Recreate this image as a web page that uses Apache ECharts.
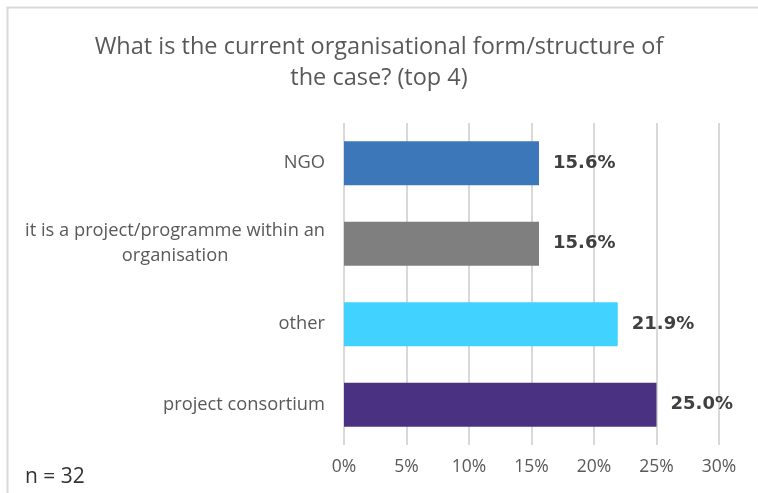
<!DOCTYPE html>
<html>
<head>
<meta charset="utf-8">
<title>organisational form</title>
<script src="https://cdn.jsdelivr.net/npm/echarts@6/dist/echarts.min.js"></script>
<style>
html, body { margin: 0; padding: 0; background: #fff; }
#chart { width: 758px; height: 493px; }
</style>
</head>
<body>
<div id="chart"></div>
<script>
var categories = ['NGO', 'it is a project/programme within an\norganisation', 'other', 'project consortium'];
var values = [15.6, 15.6, 21.9, 25.0];
var barColors = ['#3C78B9', '#7F7F7F', '#42D2FF', '#4B3182'];
var tickValues = [0, 5, 10, 15, 20, 25, 30];

var chart = echarts.init(document.getElementById('chart'));
var option = {
    backgroundColor: '#fff',
    graphic: [
        { type: 'rect', shape: { x: 7.5, y: 7.5, width: 800, height: 600 }, style: { fill: 'none', stroke: '#D9D9D9', lineWidth: 2 } },
        { type: 'text', left: 25, top: 467, style: { text: 'n = 32', font: '21px "Open Sans"', fill: '#333' } }
    ],
    title: {
        text: 'What is the current organisational form/structure of\nthe case? (top 4)',
        left: 'center',
        top: 27,
        textStyle: { fontFamily: 'Open Sans', fontWeight: 'normal', fontSize: 23.5, color: '#595959', lineHeight: 31 }
    },
    grid: { left: 344, right: 39, top: 123, bottom: 48, containLabel: false },
    xAxis: {
        type: 'value',
        min: tickValues[0],
        max: tickValues[tickValues.length - 1],
        interval: 5,
        axisLine: { show: false },
        axisTick: { show: false },
        splitLine: { lineStyle: { color: '#D9D9D9', width: 2 } },
        axisLabel: { formatter: '{value}%', color: '#595959', fontSize: 17.5, fontFamily: 'Open Sans', margin: 13 }
    },
    yAxis: {
        type: 'category',
        inverse: true,
        data: categories,
        axisLine: { show: false },
        axisTick: { show: false },
        axisLabel: {
            margin: 19,
            align: 'right',
            formatter: function (v) {
                return v.split('\n').map(function (s) { return '{c|' + s + '}'; }).join('\n');
            },
            rich: {
                c: { color: '#595959', fontSize: 18.3, fontFamily: 'Open Sans', align: 'center', lineHeight: 25 }
            }
        }
    },
    series: [{
        type: 'bar',
        data: values.map(function (v, i) { return { value: v, itemStyle: { color: barColors[i] } }; }),
        barWidth: 44,
        label: {
            show: true,
            position: 'right',
            distance: 14,
            formatter: function (p) { return p.value.toFixed(1) + '%'; },
            color: '#404040',
            fontWeight: 'bold',
            fontSize: 18,
            fontFamily: 'DejaVu Sans'
        }
    }]
};
chart.setOption(option);
</script>
</body>
</html>
